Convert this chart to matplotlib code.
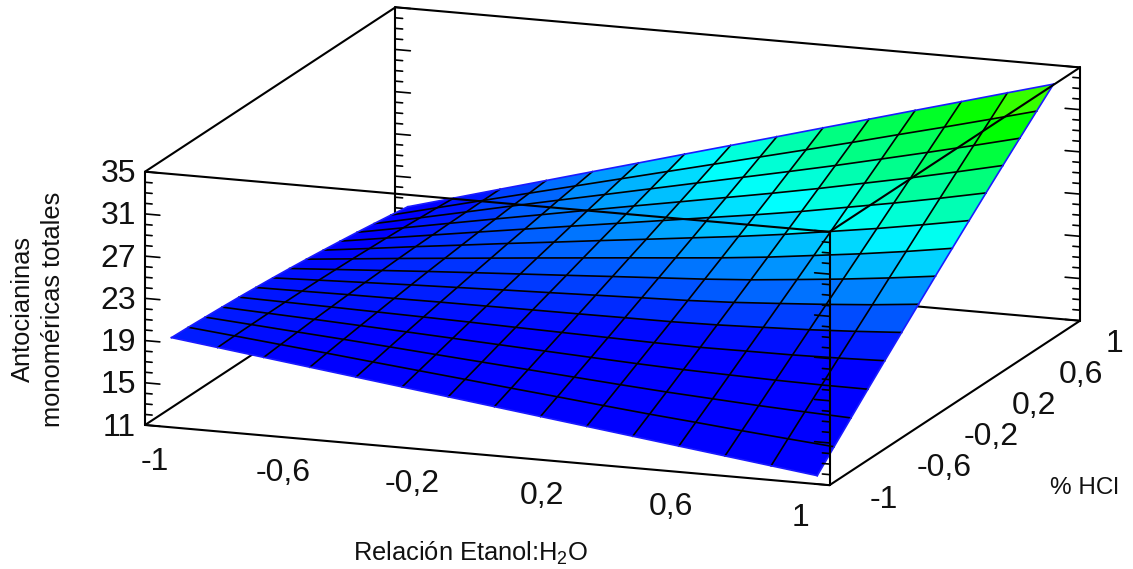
import numpy as np
import matplotlib
matplotlib.use('Agg')
import matplotlib.pyplot as plt
from matplotlib.colors import LinearSegmentedColormap, Normalize
from mpl_toolkits.mplot3d import proj3d

plt.rcParams['font.family'] = ['Liberation Sans', 'DejaVu Sans']
plt.rcParams['mathtext.default'] = 'regular'

x_ticks = [-1, -0.6, -0.2, 0.2, 0.6, 1]
y_ticks = [-1, -0.6, -0.2, 0.2, 0.6, 1]
x_labels = ['-1', '-0,6', '-0,2', '0,2', '0,6', '1']
y_labels = ['-1', '-0,6', '-0,2', '0,2', '0,6', '1']
z_ticks = [11, 15, 19, 23, 27, 31, 35]

# grid of the surface, rows go along % HCl, columns along Relacion Etanol:H2O
grid_x = np.linspace(-1, 1, 15)
grid_y = np.linspace(-1, 1, 15)
grid_z = [
    [19.00, 18.45, 17.90, 17.35, 16.80, 16.25, 15.70, 15.15, 14.60, 14.05, 13.50, 12.95, 12.40, 11.85, 11.30],
    [18.93, 18.50, 18.06, 17.63, 17.18, 16.74, 16.30, 15.85, 15.42, 14.97, 14.54, 14.15, 13.74, 13.36, 12.99],
    [18.84, 18.52, 18.20, 17.89, 17.56, 17.22, 16.89, 16.56, 16.23, 15.90, 15.59, 15.33, 15.07, 14.86, 14.67],
    [18.74, 18.54, 18.35, 18.14, 17.93, 17.71, 17.49, 17.27, 17.05, 16.84, 16.66, 16.54, 16.43, 16.36, 16.34],
    [18.63, 18.55, 18.47, 18.38, 18.29, 18.19, 18.08, 17.98, 17.88, 17.78, 17.72, 17.75, 17.77, 17.86, 17.99],
    [18.50, 18.54, 18.59, 18.62, 18.65, 18.66, 18.68, 18.69, 18.71, 18.72, 18.80, 18.95, 19.11, 19.34, 19.62],
    [18.36, 18.53, 18.69, 18.85, 18.99, 19.14, 19.27, 19.41, 19.55, 19.68, 19.88, 20.16, 20.46, 20.81, 21.24],
    [18.20, 18.49, 18.78, 19.07, 19.34, 19.60, 19.86, 20.13, 20.39, 20.65, 20.97, 21.38, 21.81, 22.30, 22.85],
    [18.03, 18.45, 18.87, 19.27, 19.67, 20.07, 20.46, 20.85, 21.23, 21.62, 22.07, 22.61, 23.15, 23.76, 24.44],
    [17.84, 18.38, 18.94, 19.47, 20.01, 20.52, 21.05, 21.56, 22.08, 22.60, 23.18, 23.84, 24.50, 25.24, 26.02],
    [17.64, 18.32, 18.99, 19.66, 20.32, 20.98, 21.63, 22.29, 22.95, 23.60, 24.30, 25.08, 25.86, 26.70, 27.59],
    [17.43, 18.24, 19.05, 19.85, 20.64, 21.44, 22.23, 23.01, 23.80, 24.59, 25.42, 26.31, 27.20, 28.15, 29.14],
    [17.20, 18.14, 19.08, 20.03, 20.96, 21.88, 22.81, 23.74, 24.67, 25.60, 26.55, 27.55, 28.56, 29.60, 30.67],
    [16.96, 18.04, 19.12, 20.19, 21.26, 22.33, 23.40, 24.47, 25.54, 26.61, 27.69, 28.81, 29.91, 31.04, 32.19],
    [16.70, 17.91, 19.13, 20.34, 21.56, 22.77, 23.99, 25.20, 26.41, 27.63, 28.84, 30.06, 31.27, 32.49, 33.70],
]

W, H = 1133, 569
XMIN, XMAX = -1.06, 1.06
ZMIN, ZMAX = 11, 35
SIDE = 1500  # px, the 3d axes are square and clip what they draw

fig = plt.figure(figsize=(W / 100, H / 100), dpi=100)
ax = fig.add_axes([0, 0, SIDE / W, SIDE / H], projection='3d',
                  proj_type='ortho', computed_zorder=False)
ax.set_axis_off()
ax.set_xlim(XMIN, XMAX, view_margin=0)
ax.set_ylim(XMIN, XMAX, view_margin=0)
ax.set_zlim(ZMIN, ZMAX, view_margin=0)
ax.view_init(elev=13.9, azim=-69.9)
ax.set_box_aspect((1, 1, 0.358), zoom=1)


def to_px(x, y, z):
    x2, y2, _ = proj3d.proj_transform(x, y, z, ax.get_proj())
    return ax.transData.transform((x2, y2))


# scale and move the axes so that the box sits where it does in the picture
ax.apply_aspect()
width = to_px(XMAX, XMAX, ZMIN)[0] - to_px(XMIN, XMIN, ZMIN)[0]
ax.set_box_aspect((1, 1, 0.358), zoom=935 / width)
ax.apply_aspect()
px = to_px(XMIN, XMIN, ZMIN)
shift_x, shift_y = 145 - px[0], (H - 425) - px[1]
ax.set_position([shift_x / W, shift_y / H, SIDE / W, SIDE / H])
ax.apply_aspect()


def box_line(p, q, z_order, lw=1.5):
    ax.plot([p[0], q[0]], [p[1], q[1]], [p[2], q[2]], color='black', lw=lw,
            zorder=z_order, solid_capstyle='round')


def tick_label(x, y, z, text, dx, dy, ha):
    # 2d text placed some pixels away from a point of the box
    p = to_px(x, y, z)
    fig.text((p[0] + dx) / W, (p[1] - dy) / H, text, fontsize=23, ha=ha,
             va='center', color='#111111')


# box edges behind the surface
box_line((XMIN, XMIN, ZMIN), (XMIN, XMAX, ZMIN), 1)
box_line((XMIN, XMAX, ZMIN), (XMAX, XMAX, ZMIN), 1)
box_line((XMIN, XMAX, ZMIN), (XMIN, XMAX, ZMAX), 1)

# ticks of the vertical edges
major_len, minor_len = 0.046, 0.022
for z in range(ZMIN, ZMAX + 1):
    tick = major_len if z in z_ticks else minor_len
    box_line((XMIN, XMIN, z), (XMIN + tick, XMIN, z), 1, 1.2)
    box_line((XMIN, XMAX, z), (XMIN + tick, XMAX, z), 1, 1.2)
    box_line((XMAX, XMAX, z), (XMAX - tick, XMAX, z), 1, 1.2)
    box_line((XMAX, XMIN, z), (XMAX - tick, XMIN, z), 5, 1.2)

X, Y = np.meshgrid(grid_x, grid_y)
Z = np.array(grid_z)
colores = LinearSegmentedColormap.from_list(
    'superficie', ['#0000ff', '#00ffff', '#00ff00', '#ffff00'])
ax.plot_surface(X, Y, Z, rstride=1, cstride=1, cmap=colores,
                norm=Normalize(18, 37.5), shade=False, linewidth=0, zorder=2)

# mesh lines, the outline of the surface is blue
for i in range(15):
    is_edge = i == 0 or i == 14
    color = '#1a1aff' if is_edge else 'black'
    ax.plot(X[i], Y[i], Z[i], color=color, lw=1.2, zorder=3 + is_edge)
    ax.plot(X[:, i], Y[:, i], Z[:, i], color=color, lw=1.2, zorder=3 + is_edge)

# box edges in front of the surface
box_line((XMIN, XMIN, ZMIN), (XMIN, XMIN, ZMAX), 5)
box_line((XMIN, XMIN, ZMIN), (XMAX, XMIN, ZMIN), 5)
box_line((XMAX, XMIN, ZMIN), (XMAX, XMAX, ZMIN), 5)
box_line((XMAX, XMAX, ZMIN), (XMAX, XMAX, ZMAX), 5)
box_line((XMAX, XMIN, ZMIN), (XMAX, XMIN, ZMAX), 5)
box_line((XMIN, XMIN, ZMAX), (XMAX, XMIN, ZMAX), 5)
box_line((XMIN, XMIN, ZMAX), (XMIN, XMAX, ZMAX), 5)
box_line((XMAX, XMIN, ZMAX), (XMAX, XMAX, ZMAX), 5)
box_line((XMIN, XMAX, ZMAX), (XMAX, XMAX, ZMAX), 5)

for val, lab in zip(x_ticks, x_labels):
    tick_label(val, XMIN, ZMIN, lab, -10, 35, 'center')
for val, lab in zip(y_ticks, y_labels):
    tick_label(XMAX, val, ZMIN, lab, 33, 19, 'left')
for val in z_ticks:
    tick_label(XMIN, XMIN, val, str(val), -9, 2.5, 'right')

fig.text(471 / W, 1 - 553 / H, 'Relación Etanol:H$_2$O', fontsize=18.4,
         ha='center', va='center', color='#111111')
fig.text(1084 / W, 1 - 488 / H, '% HCl', fontsize=17.5, ha='center', va='center',
         color='#111111')
fig.text(37.5 / W, 1 - 309 / H, 'Antocianinas\nmonoméricas totales', fontsize=18.4,
         rotation=90, ha='center', va='center', ma='center', color='#111111',
         linespacing=1.32)

fig.savefig('out.png', dpi=100)
